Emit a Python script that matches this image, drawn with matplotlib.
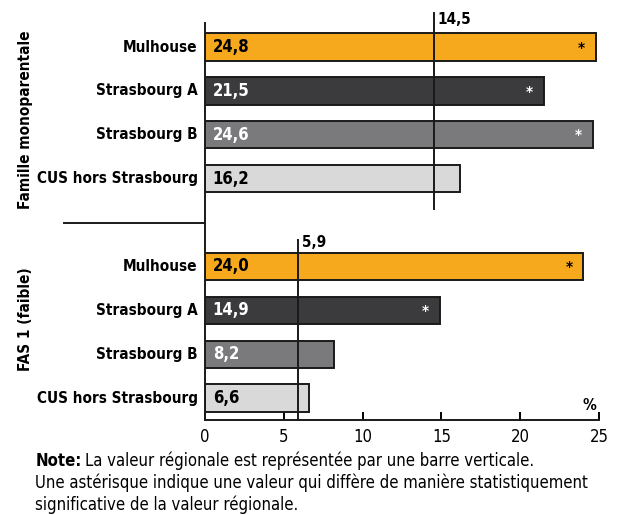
import matplotlib
matplotlib.use("Agg")
import matplotlib.pyplot as plt

plt.rcParams["font.family"] = ["DejaVu Sans"]
plt.rcParams["font.stretch"] = "condensed"

# data
categories = ["Mulhouse", "Strasbourg A", "Strasbourg B", "CUS hors Strasbourg"]
famille_values = [24.8, 21.5, 24.6, 16.2]
fas_values = [24.0, 14.9, 8.2, 6.6]
famille_signif = [True, True, True, False]
fas_signif = [True, True, False, False]
famille_ref = 14.5
fas_ref = 5.9
groups = ["Famille monoparentale", "FAS 1 (faible)"]
xticks = [0, 5, 10, 15, 20, 25]

colors = ["#f6a91c", "#3b3b3d", "#7a7a7c", "#d9d9d9"]
text_colors = ["black", "white", "white", "black"]


def fmt(v):
    return "{:.1f}".format(v).replace(".", ",")


fig = plt.figure(figsize=(6.17, 5.15), dpi=100)
ax = fig.add_axes([0.332, 0.1845, 0.639, 0.771])

blocks = [(0, famille_values, famille_signif), (5, fas_values, fas_signif)]
for start, values, signif in blocks:
    rows = [start + i for i in range(len(values))]
    ax.barh(rows, values, height=0.62, color=colors, edgecolor="#1a1a1a",
            linewidth=1.4, zorder=2)
    for r, v, s, tc in zip(rows, values, signif, text_colors):
        ax.text(0.5, r, fmt(v), va="center", ha="left", color=tc,
                fontsize=12, fontweight="bold", zorder=4)
        if s:
            ax.text(v - 0.9, r + 0.05, "*", va="center", ha="center",
                    color=tc, fontsize=11, fontweight="bold", zorder=4)
        ax.text(-0.45, r, categories[r - start], va="center", ha="right",
                fontsize=11, fontweight="bold", clip_on=False)

# regional reference lines
ax.plot([famille_ref, famille_ref], [-0.77, 3.7], color="#1a1a1a", lw=1.4,
        zorder=3, clip_on=False)
ax.text(famille_ref + 0.25, -0.8, fmt(famille_ref), ha="left", va="top",
        fontsize=11, fontweight="bold", clip_on=False)
ax.plot([fas_ref, fas_ref], [4.4, 8.5], color="#1a1a1a", lw=1.4,
        zorder=3, clip_on=False)
ax.text(fas_ref + 0.25, 4.28, fmt(fas_ref), ha="left", va="top",
        fontsize=11, fontweight="bold", clip_on=False)

# separator between groups
ax.plot([-8.9, 0], [4.0, 4.0], color="#1a1a1a", lw=1.4, clip_on=False)

ax.text(-11.4, 1.65, groups[0], rotation=90, ha="center", va="center",
        fontsize=11, fontweight="bold", clip_on=False)
ax.text(-11.4, 6.2, groups[1], rotation=90, ha="center", va="center",
        fontsize=11, fontweight="bold", clip_on=False)

ax.set_xlim(0, 25)
ax.set_ylim(8.5, -0.55)
ax.set_xticks(xticks)
ax.set_xticklabels([str(t) for t in xticks], fontsize=12)
ax.tick_params(axis="x", direction="in", length=6, width=1.4, pad=6)
ax.set_yticks([])
for side in ["top", "right"]:
    ax.spines[side].set_visible(False)
for side in ["left", "bottom"]:
    ax.spines[side].set_linewidth(1.4)
    ax.spines[side].set_color("#1a1a1a")
ax.text(24.4, 8.35, "%", ha="center", va="bottom", fontsize=11,
        fontweight="bold", clip_on=False)

# note
note_head = fig.text(0.057, 0.105, "Note:", fontsize=12, fontweight="bold",
                     va="center")
fig.canvas.draw()
bb = note_head.get_window_extent().transformed(fig.transFigure.inverted())
fig.text(bb.x1 + 0.005, 0.105,
         "La valeur régionale est représentée par une barre verticale.",
         fontsize=12, va="center")
fig.text(0.057, 0.062,
         "Une astérisque indique une valeur qui diffère de manière statistiquement",
         fontsize=12, va="center")
fig.text(0.057, 0.019, "significative de la valeur régionale.",
         fontsize=12, va="center")

fig.savefig("out.png", dpi=100)
